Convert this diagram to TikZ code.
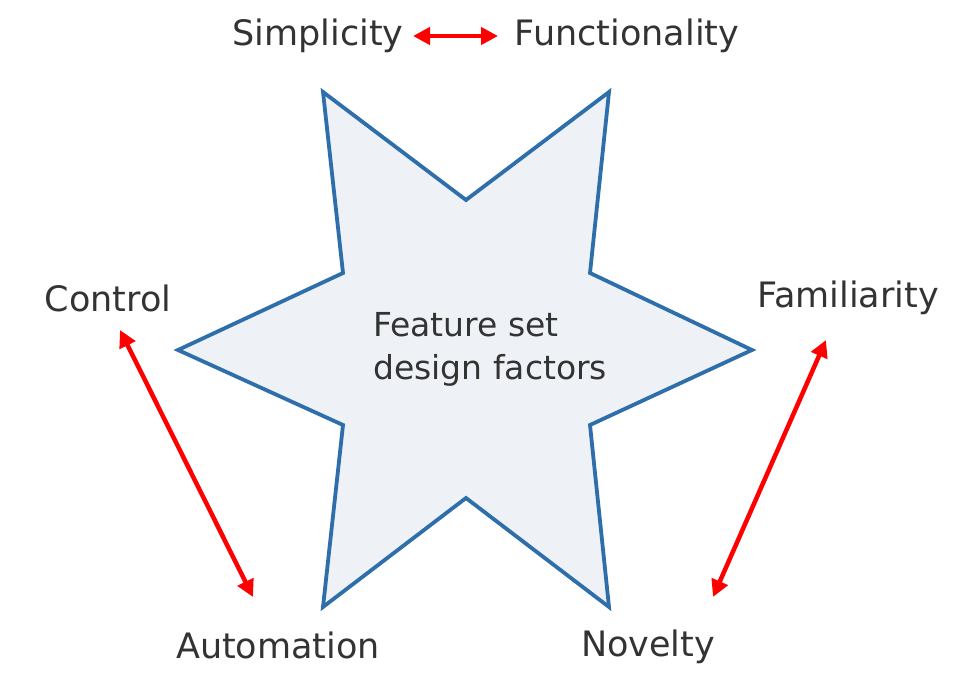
\documentclass[tikz,border=0pt]{standalone}
\usepackage{fontspec}
\setmainfont{DejaVu Sans}
\usetikzlibrary{arrows.meta}
\definecolor{starblue}{RGB}{46,110,170}
\definecolor{starfill}{RGB}{238,242,246}
\definecolor{txt}{RGB}{51,51,51}
\definecolor{arr}{RGB}{255,0,0}
\begin{document}
\begin{tikzpicture}[x=1pt,y=-1pt,
  lbl/.style={text=txt,font=\fontsize{35}{40}\selectfont,inner sep=0pt},
  ctr/.style={text=txt,font=\fontsize{33}{43}\selectfont,align=left,inner sep=0pt},
  link/.style={draw=arr,line width=4.5pt,{Triangle[length=17pt,width=17pt]}-{Triangle[length=17pt,width=17pt]}}]
\path[use as bounding box,fill=white] (0,0) rectangle (953,674);
\draw[draw=starblue,fill=starfill,line width=3.8pt,line join=miter]
  (323,92) -- (466,200) -- (609,92) -- (590,273) -- (752,350) -- (590,425)
  -- (609,607) -- (466,498) -- (323,607) -- (343,425) -- (178,350) -- (343,273) -- cycle;
\node[ctr,anchor=west] (center) at (373,349) {Feature set\\design factors};
\node[lbl] (simp) at (318,36) {Simplicity};
\node[lbl] (func) at (627,36) {Functionality};
\node[lbl] (ctrl) at (108,298) {Control};
\node[lbl] (fam) at (848,298) {Familiarity};
\node[lbl] (auto) at (278,645) {Automation};
\node[lbl] (nov) at (648,647) {Novelty};
\coordinate (a1) at (413,36);
\coordinate (a2) at (498,36);
\coordinate (b1) at (120,330);
\coordinate (b2) at (253,597);
\coordinate (c1) at (826,340);
\coordinate (c2) at (713,597);
\draw[link] (a1) -- (a2);
\draw[link] (b1) -- (b2);
\draw[link] (c1) -- (c2);
\end{tikzpicture}
\end{document}
